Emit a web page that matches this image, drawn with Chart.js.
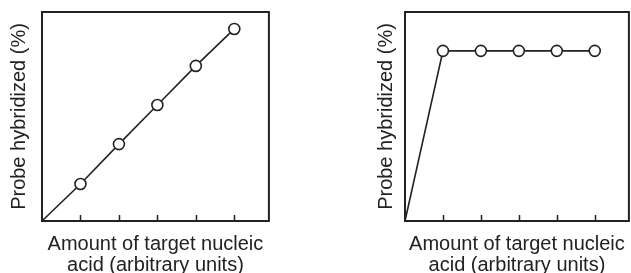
<!DOCTYPE html>
<html lang="en">
<head>
<meta charset="UTF-8">
<title>Probe hybridized vs target amount</title>
<script src="https://cdn.jsdelivr.net/npm/chart.js@4.4.1/dist/chart.umd.min.js"></script>
<style>
    html, body { margin: 0; padding: 0; background: #fff; width: 631px; height: 273px; overflow: hidden; }
    canvas { position: absolute; top: 0; }
    #left { left: 0; }
    #right { left: 363px; }
</style>
</head>
<body>
<canvas id="left" width="276" height="276"></canvas>
<canvas id="right" width="273" height="276"></canvas>

<script>
    // values (x in arbitrary units, y in %)
    const amounts = [0, 1, 2, 3, 4, 5];
    const linearHybridized = [0, 17.7, 36.8, 55.5, 74.2, 91.9];
    const saturatedHybridized = [0, 81.4, 81.4, 81.4, 81.4, 81.4];
    const tickValues = [1, 2, 3, 4, 5];
    const yTitle = 'Probe hybridized (%)';
    const xTitle = ['Amount of target nucleic', 'acid (arbitrary units)'];

    const ink = '#222222';
    const titleFont = { family: "'Liberation Sans', Arial, Helvetica, sans-serif", size: 20, lineHeight: 1.05 };

    // box around the plot + small upward ticks on the bottom axis
    const framePlugin = {
        id: 'frame',
        afterDraw(chart) {
            const { ctx, chartArea: a, scales: { x } } = chart;
            ctx.save();
            ctx.strokeStyle = ink;
            ctx.lineWidth = 2;
            ctx.strokeRect(a.left, a.top, a.right - a.left, a.bottom - a.top);
            ctx.lineWidth = 1.5;
            ctx.beginPath();
            tickValues.forEach(v => {
                const px = Math.round(x.getPixelForValue(v)) + 0.5;
                ctx.moveTo(px, a.bottom);
                ctx.lineTo(px, a.bottom - 6);
            });
            ctx.stroke();
            ctx.restore();
        }
    };

    function makeChart(id, values, yPad) {
        return new Chart(document.getElementById(id), {
            type: 'scatter',
            data: {
                datasets: [{
                    data: amounts.map((a, i) => ({ x: a, y: values[i] })),
                    showLine: true,
                    borderColor: ink,
                    borderWidth: 1.6,
                    pointRadius: amounts.map(a => a === 0 ? 0 : 5.5),
                    pointBackgroundColor: '#fff',
                    pointBorderColor: ink,
                    pointBorderWidth: 1.6,
                    clip: false
                }]
            },
            options: {
                responsive: false,
                animation: false,
                devicePixelRatio: 1,
                layout: { padding: { top: 12, right: 6, left: 0, bottom: 0 } },
                plugins: { legend: { display: false }, tooltip: { enabled: false } },
                scales: {
                    x: {
                        type: 'linear', min: 0, max: 5.9,
                        grid: { display: false, drawTicks: false },
                        border: { display: false },
                        ticks: { display: false },
                        title: { display: true, text: xTitle, color: ink, font: titleFont, padding: { top: 13, bottom: 0 } }
                    },
                    y: {
                        min: 0, max: 100,
                        grid: { display: false, drawTicks: false },
                        border: { display: false },
                        ticks: { display: false },
                        title: { display: true, text: yTitle, color: ink, font: titleFont, padding: yPad }
                    }
                }
            },
            plugins: [framePlugin]
        });
    }

    makeChart('left', linearHybridized, { top: 8.5, bottom: 12.5 });
    makeChart('right', saturatedHybridized, { top: 13, bottom: 8 });
</script>
</body>
</html>
